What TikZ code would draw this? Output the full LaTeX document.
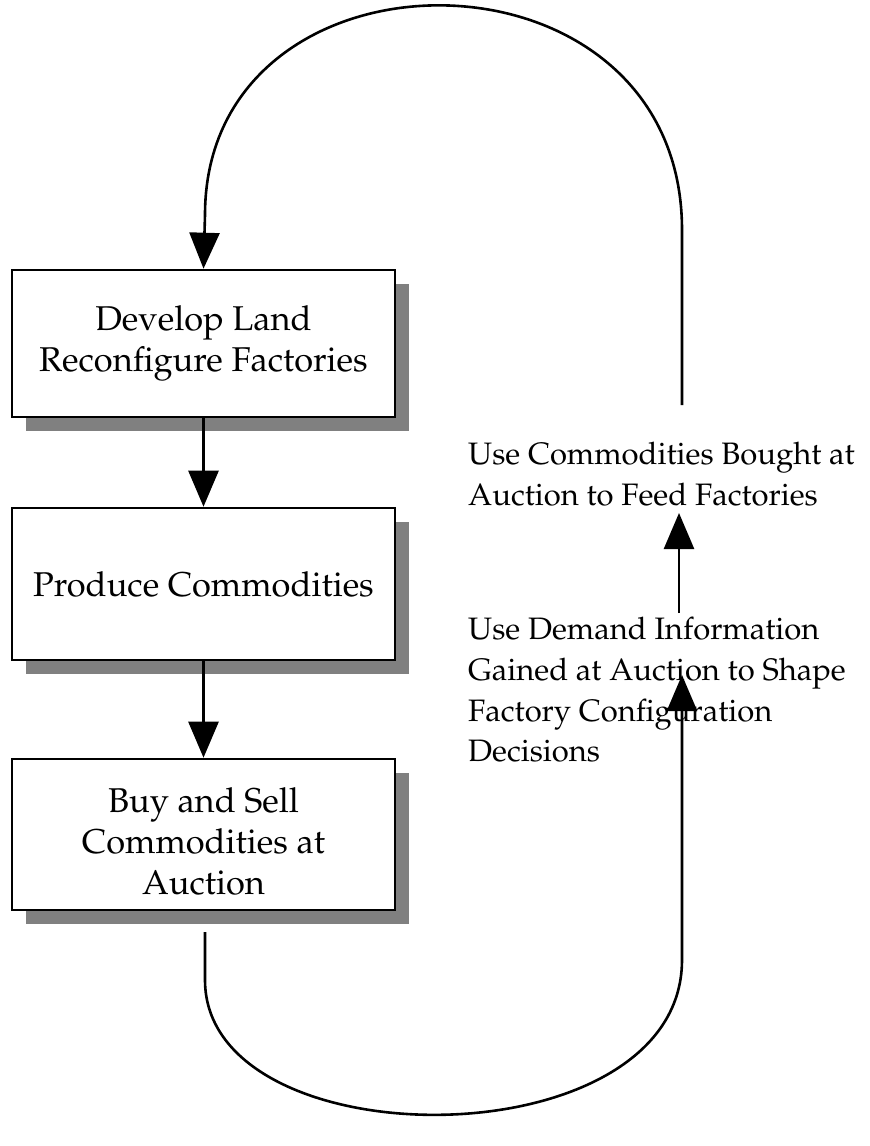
\documentclass[tikz,border=0pt]{standalone}
\usepackage[T1]{fontenc}
\usepackage{mathpazo}
\usetikzlibrary{arrows.meta,shadows}
\begin{document}
\begin{tikzpicture}[x=1pt,y=-1pt,
  box/.style={draw,line width=2.6pt,fill=white,minimum width=383pt,align=center,
    font=\fontsize{34.4}{40.5}\selectfont,
    drop shadow={shadow xshift=14pt,shadow yshift=-14pt,fill=black!50,opacity=1}},
  lbl/.style={anchor=north west,align=left,inner sep=0pt,font=\fontsize{31}{40.7}\selectfont},
  conn/.style={line width=2.6pt,-{Triangle[width=30pt,length=36pt]}}]
\useasboundingbox (0,0) rectangle (870,1146);
\node[box,minimum height=147pt] (b1) at (203.5,343.5) {Develop Land\\Reconfigure Factories};
\node[box,minimum height=152pt] (b2) at (203.5,584) {Produce Commodities};
\node[box,minimum height=151pt] (b3) at (203.5,834.5) {\parbox{300pt}{\centering\fontsize{34.4}{41}\selectfont\vspace*{13pt}Buy and Sell\\Commodities at\\Auction}};
\node[lbl] (t1) at (468,442) {Use Commodities Bought at\\Auction to Feed Factories};
\node[lbl] (t2) at (468,617) {Use Demand Information\\Gained at Auction to Shape\\Factory Configuration\\Decisions};
\draw[conn] (b1.south) -- (b2.north);
\draw[conn] (b2.south) -- (b3.north);
\coordinate (ms) at (679,613);
\coordinate (me) at (679,513);
\draw[conn] (ms) -- (me);
\coordinate (ts) at (682,405);
\draw[conn] (ts) -- (682,230) .. controls (682,-67) and (205,-67) .. (205,215) -- (b1.north);
\coordinate (bs) at (205,932);
\coordinate (be) at (682,675);
\draw[conn] (bs) -- (205,980) .. controls (205,1163) and (682,1163) .. (682,960) -- (be);
\end{tikzpicture}
\end{document}
